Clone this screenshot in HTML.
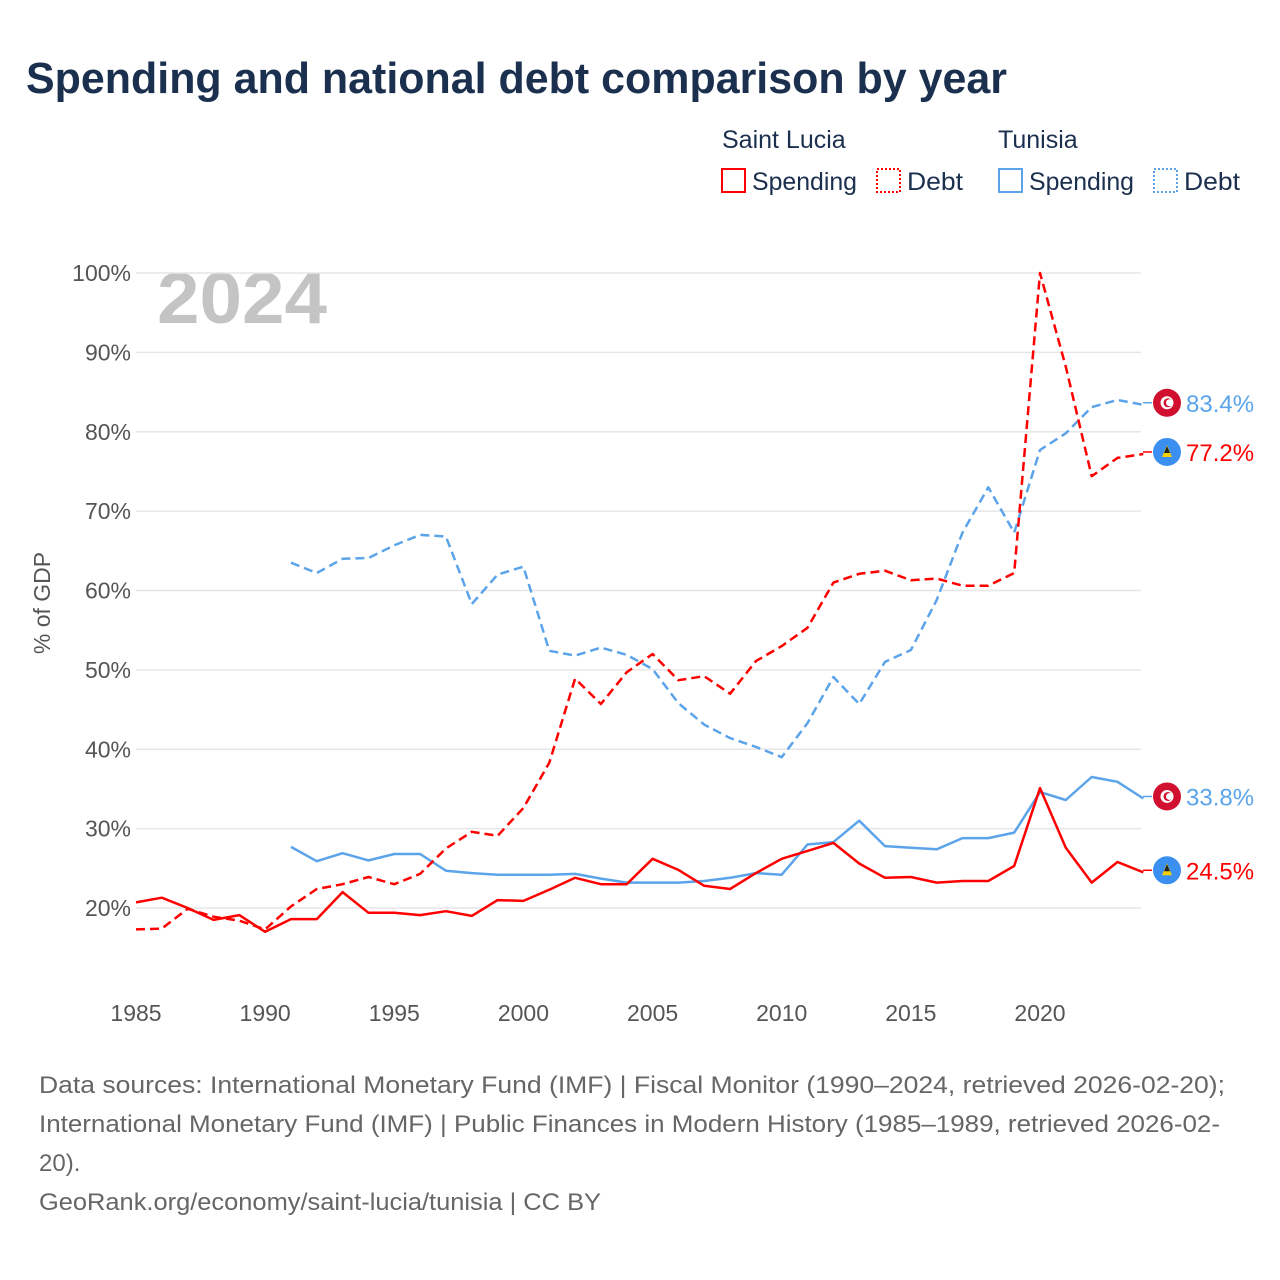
<!DOCTYPE html>
<html><head><meta charset="utf-8"><style>
body{margin:0;background:#fff;width:1280px;height:1280px;overflow:hidden;font-family:"Liberation Sans",sans-serif}
svg{display:block}
</style></head><body>
<svg id="chart" width="1280" height="1280">
<text x="26" y="93" font-size="44" font-weight="bold" fill="#1b2f4e" textLength="981" lengthAdjust="spacingAndGlyphs">Spending and national debt comparison by year</text>
<g font-size="25" fill="#1b2f4e">
<text x="722" y="148">Saint Lucia</text>
<text x="998" y="148">Tunisia</text>
<g><rect x="722" y="169" width="23" height="23" fill="none" stroke="#ff0000" stroke-width="2"/><text x="752" y="190" textLength="105" lengthAdjust="spacingAndGlyphs">Spending</text></g>
<g><rect x="877" y="169" width="23" height="23" fill="none" stroke="#ff0000" stroke-width="2" stroke-dasharray="2 2"/><text x="907" y="190" textLength="56" lengthAdjust="spacingAndGlyphs">Debt</text></g>
<g><rect x="999" y="169" width="23" height="23" fill="none" stroke="#5ba4ea" stroke-width="2"/><text x="1029" y="190" textLength="105" lengthAdjust="spacingAndGlyphs">Spending</text></g>
<g><rect x="1154" y="169" width="23" height="23" fill="none" stroke="#5ba4ea" stroke-width="2" stroke-dasharray="2 2"/><text x="1184" y="190" textLength="56" lengthAdjust="spacingAndGlyphs">Debt</text></g>
</g>
<text x="157" y="323" font-size="72" font-weight="bold" fill="#c4c4c4" textLength="170" lengthAdjust="spacingAndGlyphs">2024</text>
<text transform="translate(50,603) rotate(-90)" text-anchor="middle" font-size="23" fill="#555">% of GDP</text>
<g id="grid"></g><g id="series"></g><g id="labels"></g>
<g font-size="24" fill="#666">
<text x="39" y="1093" textLength="1186" lengthAdjust="spacingAndGlyphs">Data sources: International Monetary Fund (IMF) | Fiscal Monitor (1990–2024, retrieved 2026-02-20);</text>
<text x="39" y="1132" textLength="1181" lengthAdjust="spacingAndGlyphs">International Monetary Fund (IMF) | Public Finances in Modern History (1985–1989, retrieved 2026-02-</text>
<text x="39" y="1171">20).</text>
<text x="39" y="1210" textLength="562" lengthAdjust="spacingAndGlyphs">GeoRank.org/economy/saint-lucia/tunisia | CC BY</text>
</g>
</svg>
<script>
const yTicks=[20,30,40,50,60,70,80,90,100];
const xTicks=[1985,1990,1995,2000,2005,2010,2015,2020];
const lcSpendStart=1985;
const lcSpend=[20.7,21.3,20.0,18.5,19.1,17.0,18.6,18.6,22.0,19.4,19.4,19.1,19.6,19.0,21.0,20.9,22.3,23.8,23.0,23.0,26.2,24.8,22.8,22.4,24.4,26.2,27.2,28.2,25.6,23.8,23.9,23.2,23.4,23.4,25.3,35.1,27.6,23.2,25.8,24.5];
const lcDebt=[17.3,17.4,19.9,18.9,18.4,17.3,20.2,22.4,23.0,23.9,23.0,24.3,27.5,29.6,29.1,32.6,38.3,48.9,45.7,49.7,52.0,48.7,49.2,47.0,51.1,53.0,55.3,61.0,62.1,62.5,61.3,61.5,60.6,60.6,62.2,100,88.2,74.4,76.7,77.2];
const tnStart=1991;
const tnSpend=[27.7,25.9,26.9,26.0,26.8,26.8,24.7,24.4,24.2,24.2,24.2,24.3,23.7,23.2,23.2,23.2,23.4,23.8,24.4,24.2,28.0,28.3,31.0,27.8,27.6,27.4,28.8,28.8,29.5,34.6,33.6,36.5,35.9,33.8];
const tnDebt=[63.5,62.2,64.0,64.1,65.7,67.0,66.8,58.3,62.0,63.0,52.4,51.8,52.8,51.9,50.1,45.8,43.1,41.4,40.3,39.0,43.3,49.1,45.7,51.0,52.5,58.8,67.3,73.0,67.3,77.7,79.8,83.1,84.0,83.4];
const X=yr=>136+(yr-1985)*(1040-136)/35;
const Y=v=>908-(v-20)*(908-273)/80;
const NS="http://www.w3.org/2000/svg";
function mk(t,a,p){const e=document.createElementNS(NS,t);for(const k in a)e.setAttribute(k,a[k]);p.appendChild(e);return e;}
const grid=document.getElementById('grid');
yTicks.forEach(v=>{
 const l=mk('line',{x1:136,x2:1141,y1:Y(v),y2:Y(v),stroke:'#e6e6e6','stroke-width':1.5},grid);
 
 
 const t=mk('text',{x:131,y:Y(v)+8,'text-anchor':'end','font-size':23,fill:'#555'},grid);
 t.textContent=v+'%';
 
 
});
xTicks.forEach(yr=>{
 const t=mk('text',{x:X(yr),y:1021,'text-anchor':'middle','font-size':23,fill:'#555'},grid);
 t.textContent=yr;
 
 
});
const ser=document.getElementById('series');
function line(arr,start,color,dash,name){
 const pts=arr.map((v,i)=>X(start+i).toFixed(1)+','+Y(v).toFixed(1)).join(' ');
 const p=mk('polyline',{points:pts,fill:'none',stroke:color,'stroke-width':2.5,'stroke-dasharray':dash,'stroke-linejoin':'round'},ser);
 
 
}
line(tnDebt,tnStart,'#5ba4ea','9 5','line-tunisia-debt');
line(tnSpend,tnStart,'#5ba4ea','none','line-tunisia-spending');
line(lcDebt,lcSpendStart,'#ff0000','9 5','line-saint-lucia-debt');
line(lcSpend,lcSpendStart,'#ff0000','none','line-saint-lucia-spending');
const lab=document.getElementById('labels');
function endLabel(v,color,country,name){
 const y=Y(v)-2,cx=1167;
 const g=mk('g',{},lab);
 
 
 mk('line',{x1:1143,x2:1152,y1:y,y2:y,stroke:color,'stroke-width':1.5},g);
 if(country==='tn'){
  mk('circle',{cx:cx,cy:y,r:14,fill:'#d0102e'},g);
  mk('circle',{cx:cx,cy:y,r:6.5,fill:'#fff'},g);
  mk('circle',{cx:cx+1,cy:y,r:4.5,fill:'#d0102e'},g);
  mk('circle',{cx:cx+2.5,cy:y,r:3.5,fill:'#fff'},g);
 } else {
  mk('circle',{cx:cx,cy:y,r:14,fill:'#3a8ff0'},g);
  mk('polygon',{points:`${cx},${y-7} ${cx-5},${y+5} ${cx+5},${y+5}`,fill:'#f5d000'},g);
  mk('polygon',{points:`${cx},${y-6} ${cx-3},${y+1} ${cx+3},${y+1}`,fill:'#222'},g);
 }
 const t=mk('text',{x:1186,y:y+9,'font-size':24,fill:color},g);
 t.textContent=v.toFixed(1)+'%';
}
endLabel(tnDebt[tnDebt.length-1],'#5ba4ea','tn','end-label-tunisia-debt');
endLabel(lcDebt[lcDebt.length-1],'#ff0000','lc','end-label-saint-lucia-debt');
endLabel(tnSpend[tnSpend.length-1],'#5ba4ea','tn','end-label-tunisia-spending');
endLabel(lcSpend[lcSpend.length-1],'#ff0000','lc','end-label-saint-lucia-spending');
</script>
</body></html>
